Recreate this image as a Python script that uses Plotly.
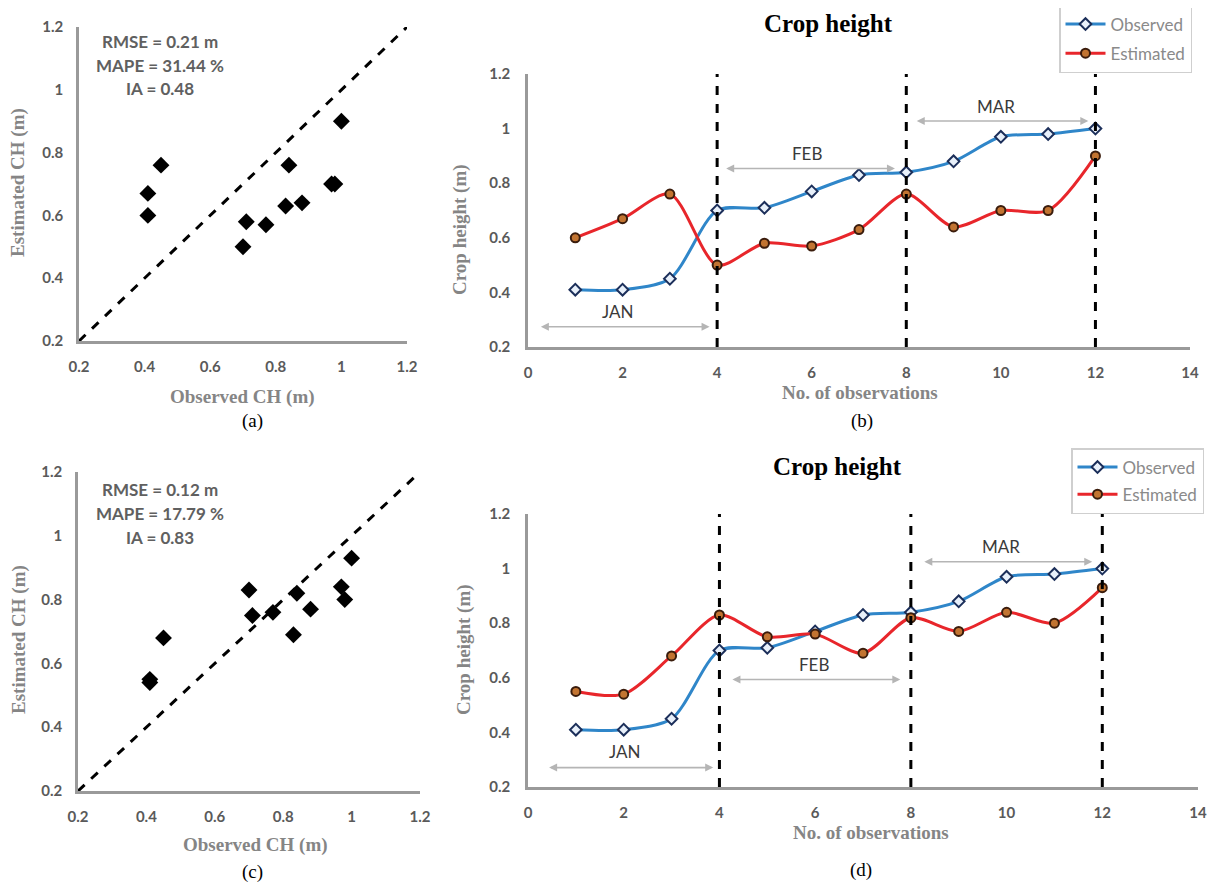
import plotly.graph_objects as go

# ---------------- data ----------------
obs_index = [1, 2, 3, 4, 5, 6, 7, 8, 9, 10, 11, 12]
observed = [0.41, 0.41, 0.45, 0.70, 0.71, 0.77, 0.83, 0.84, 0.88, 0.97, 0.98, 1.00]
estimated_b = [0.60, 0.67, 0.76, 0.50, 0.58, 0.57, 0.63, 0.76, 0.64, 0.70, 0.70, 0.90]
estimated_d = [0.55, 0.54, 0.68, 0.83, 0.75, 0.76, 0.69, 0.82, 0.77, 0.84, 0.80, 0.93]

stats_a = ["RMSE = 0.21 m", "MAPE = 31.44 %", "IA = 0.48"]
stats_c = ["RMSE = 0.12 m", "MAPE = 17.79 %", "IA = 0.83"]

month_bounds = [4, 8, 12]
months = ["JAN", "FEB", "MAR"]
# arrow spans (start, end, y) and label positions, panel b
arrows_b = [(0.24, 3.84, 0.274), (4.16, 7.76, 0.854), (8.19, 11.85, 1.028)]
labels_b = [(1.90, 0.33), (5.91, 0.91), (9.89, 1.08)]
# panel d
arrows_d = [(0.41, 3.87, 0.271), (4.24, 7.78, 0.594), (8.25, 11.79, 1.025)]
labels_d = [(2.03, 0.33), (5.98, 0.65), (9.89, 1.08)]

scatter_ticks = [0.2, 0.4, 0.6, 0.8, 1.0, 1.2]
line_xticks = [0, 2, 4, 6, 8, 10, 12, 14]
captions = ["(a)", "(b)", "(c)", "(d)"]

# page body has an 8px default margin: size the figure so it fills the window
OFF = 8
W, H = 1215 - OFF, 883 - OFF
def px(x):
    return (x - OFF) / W
def py(y):
    return 1 - (y - OFF) / H

BLUE = "#2f86c9"
RED = "#e8262b"
AXIS_GREY = "#9a9a9a"
TICK_FONT = dict(family="Lato", size=15, color="#5a5a5a", weight="bold")
TITLE_FONT = dict(family="Liberation Serif", size=19, color="#858585", weight="bold")

fig = go.Figure()

# ----- scatter panels (a) and (c) -----
for xa, ya, est in [("x", "y", estimated_b), ("x3", "y3", estimated_d)]:
    fig.add_trace(go.Scatter(x=[scatter_ticks[0], scatter_ticks[-1]], y=[scatter_ticks[0], scatter_ticks[-1]],
                             mode="lines", line=dict(color="black", width=3, dash="dash"),
                             xaxis=xa, yaxis=ya, showlegend=False, hoverinfo="skip"))
    fig.add_trace(go.Scatter(x=observed, y=est, mode="markers",
                             marker=dict(symbol="diamond", size=13, color="black"),
                             xaxis=xa, yaxis=ya, showlegend=False))

# ----- line panels (b) and (d) -----
for xa, ya, est, leg in [("x2", "y2", estimated_b, "legend"), ("x4", "y4", estimated_d, "legend2")]:
    fig.add_trace(go.Scatter(x=obs_index, y=observed, mode="lines+markers", name="Observed",
                             line=dict(color=BLUE, width=3, shape="spline", smoothing=0.8),
                             marker=dict(symbol="diamond", size=9, color="#e8f0fa",
                                         line=dict(color="#1c2f5a", width=2)),
                             xaxis=xa, yaxis=ya, legend=leg, legendgroup=leg + "o"))
    fig.add_trace(go.Scatter(x=obs_index, y=est, mode="lines+markers", name="Estimated",
                             line=dict(color=RED, width=3, shape="spline", smoothing=0.8),
                             marker=dict(symbol="circle", size=9, color="#c27431",
                                         line=dict(color="#3a1c0c", width=2)),
                             xaxis=xa, yaxis=ya, legend=leg, legendgroup=leg + "e"))

shapes = []
annotations = []
CENTER = dict(xanchor="center", yanchor="middle", showarrow=False)
for xa, ya, arrows, labels in [("x2", "y2", arrows_b, labels_b), ("x4", "y4", arrows_d, labels_d)]:
    for b in month_bounds:
        shapes.append(dict(type="line", xref=xa, yref=ya, x0=b, x1=b, y0=scatter_ticks[0], y1=scatter_ticks[-1],
                           line=dict(color="black", width=3, dash="dash")))
    for (s, e, yv), (lx, ly), m in zip(arrows, labels, months):
        annotations.append(dict(xref=xa, yref=ya, axref=xa, ayref=ya, x=e, y=yv, ax=s, ay=yv,
                                text="", showarrow=True, arrowhead=2, arrowside="end+start",
                                arrowsize=1, arrowwidth=1.6, arrowcolor="#b5b5b5"))
        annotations.append(dict(CENTER, xref=xa, yref=ya, x=lx, y=ly, text=m,
                                font=dict(family="Lato", size=17, color="#3a3a3a")))

# stats text
for lines, ys in [(stats_a, [42, 65, 89]), (stats_c, [489, 513, 537])]:
    for t, yy in zip(lines, ys):
        annotations.append(dict(CENTER, xref="paper", yref="paper", x=px(160), y=py(yy), text=t,
                                font=dict(family="Lato", size=17, color="#606060", weight="bold")))

# titles
for xx, yy in [(828, 24), (837, 466)]:
    annotations.append(dict(CENTER, xref="paper", yref="paper", x=px(xx), y=py(yy), text="Crop height",
                            font=dict(family="Liberation Serif", size=25, color="black", weight="bold")))

# axis titles
ax_titles = [
    ("Observed CH (m)", 242, 397, 0), ("Estimated CH (m)", 18, 183, -90),
    ("No. of observations", 860, 392, 0), ("Crop height (m)", 460, 230, -90),
    ("Observed CH (m)", 255, 845, 0), ("Estimated CH (m)", 19, 640, -90),
    ("No. of observations", 871, 832, 0), ("Crop height (m)", 464, 650, -90),
]
for t, xx, yy, ang in ax_titles:
    annotations.append(dict(CENTER, xref="paper", yref="paper", x=px(xx), y=py(yy), text=t,
                            textangle=ang, font=TITLE_FONT))

# captions
for t, xx, yy in zip(captions, [252, 862, 252, 861], [421, 421, 872, 870]):
    annotations.append(dict(CENTER, xref="paper", yref="paper", x=px(xx), y=py(yy), text=t,
                            font=dict(family="Liberation Serif", size=19, color="black")))

def axis_common():
    return dict(showline=True, linecolor=AXIS_GREY, linewidth=2.5, showgrid=False, zeroline=False,
                ticks="", tickfont=TICK_FONT, mirror=False, automargin=False)

scatter_text = ["1" if v == 1.0 else f"{v:g}" for v in scatter_ticks]

layout = dict(
    width=W, height=H, margin=dict(l=0, r=0, t=0, b=0, autoexpand=False),
    paper_bgcolor="white", plot_bgcolor="white",
    xaxis=dict(axis_common(), domain=[px(79), px(407)], range=[0.2, 1.2], tickvals=scatter_ticks,
               ticktext=scatter_text, anchor="y", ticklabelstandoff=10),
    yaxis=dict(axis_common(), domain=[py(341), py(27)], range=[0.2, 1.2], tickvals=scatter_ticks,
               ticktext=scatter_text, anchor="x", ticklabelstandoff=10),
    xaxis2=dict(axis_common(), domain=[px(528), px(1190)], range=[0, 14], tickvals=line_xticks,
                anchor="y2", ticklabelstandoff=10),
    yaxis2=dict(axis_common(), domain=[py(347), py(74)], range=[0.2, 1.2], tickvals=scatter_ticks,
                ticktext=scatter_text, anchor="x2", ticklabelstandoff=12),
    xaxis3=dict(axis_common(), domain=[px(78), px(420)], range=[0.2, 1.2], tickvals=scatter_ticks,
                ticktext=scatter_text, anchor="y3", ticklabelstandoff=10),
    yaxis3=dict(axis_common(), domain=[py(791), py(472)], range=[0.2, 1.2], tickvals=scatter_ticks,
                ticktext=scatter_text, anchor="x3", ticklabelstandoff=10),
    xaxis4=dict(axis_common(), domain=[px(528), px(1198)], range=[0, 14], tickvals=line_xticks,
                anchor="y4", ticklabelstandoff=10),
    yaxis4=dict(axis_common(), domain=[py(787), py(514)], range=[0.2, 1.2], tickvals=scatter_ticks,
                ticktext=scatter_text, anchor="x4", ticklabelstandoff=12),
    legend=dict(x=px(1059), y=py(5), xanchor="left", yanchor="top", bordercolor="#cfcfcf", borderwidth=1.5,
                bgcolor="white", font=dict(family="Lato", size=17, color="#8a8a8a"),
                tracegroupgap=4, traceorder="grouped", itemwidth=40),
    legend2=dict(x=px(1071), y=py(448), xanchor="left", yanchor="top", bordercolor="#cfcfcf", borderwidth=1.5,
                 bgcolor="white", font=dict(family="Lato", size=17, color="#8a8a8a"),
                 tracegroupgap=2, traceorder="grouped", itemwidth=40),
    shapes=shapes, annotations=annotations, showlegend=True,
)
fig.update_layout(**layout)
fig.write_html("out.html")
